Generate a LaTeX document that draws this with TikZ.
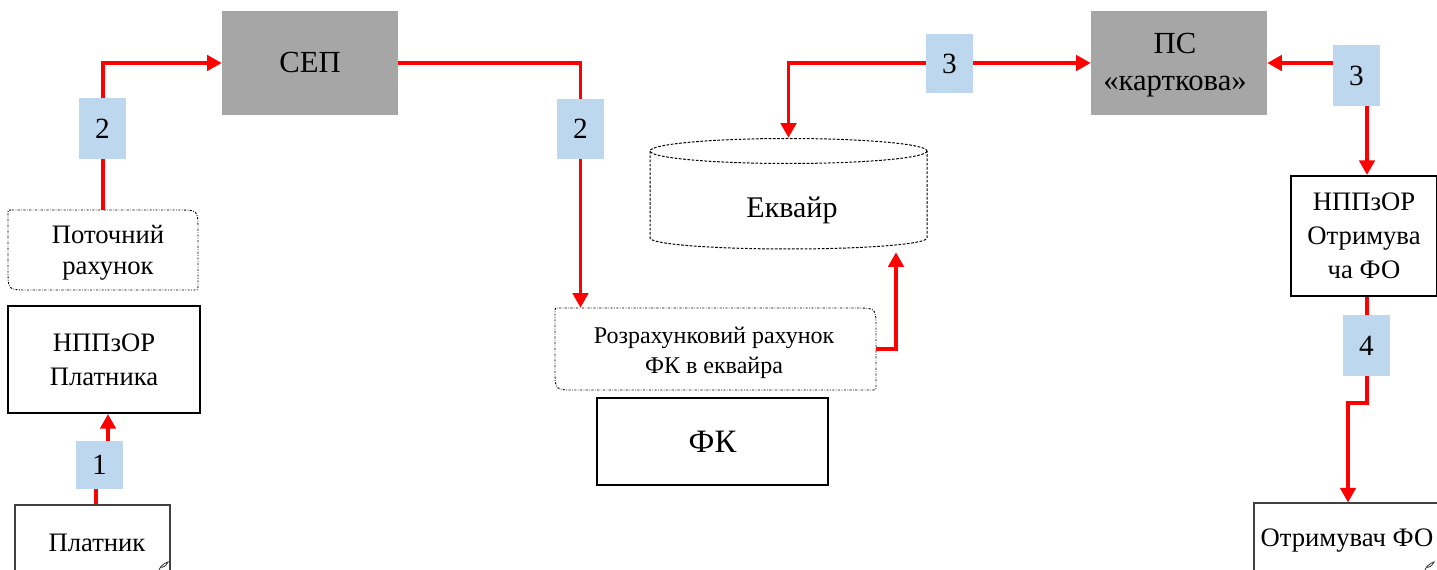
\documentclass[tikz,border=0pt]{standalone}
\usepackage{fontspec}
\setmainfont{Liberation Serif}
\usetikzlibrary{arrows.meta}
\newdimen\pxu \pxu=0.75pt
\definecolor{flowred}{RGB}{255,0,0}
\definecolor{tagblue}{RGB}{189,215,238}
\definecolor{sysgray}{RGB}{166,166,166}
\tikzset{
  txt/.style={font=\fontsize{20}{23.5}\selectfont, align=center, inner sep=0pt},
  solidbox/.style={draw=black, line width=1.5pt, inner sep=0pt, align=center,
    font=\fontsize{20}{25.5}\selectfont},
  sysbox/.style={fill=sysgray, inner sep=0pt, align=center,
    font=\fontsize{23}{28}\selectfont},
  docbox/.style={draw=black!75, line width=0.8pt, inner sep=0pt},
  tag/.style={fill=tagblue, inner sep=0pt, font=\fontsize{22}{24}\selectfont},
  ghost/.style={inner sep=0pt},
  dotbdr/.style={draw=black, line width=0.7pt,
    dash pattern=on 1.6pt off 1.1pt on 0.5pt off 1.1pt},
  dashbdr/.style={draw=black, line width=0.75pt, dash pattern=on 2pt off 1.2pt},
  flow/.style={draw=flowred, line width=2.8pt, line join=miter,
    -{Triangle[width=11.5pt,length=11pt]}},
  flow2/.style={flow, {Triangle[width=11.5pt,length=11pt]}-{Triangle[width=11.5pt,length=11pt]}},
}
% box with two large and two small rounded corners
\newcommand\diagbox[7][]{%
  \draw[dotbdr,#1] (#2+#7,#3) -- (#4-#6,#3) .. controls (#4,#3) .. (#4,#3+#6)
    -- (#4,#5-#7) .. controls (#4,#5) .. (#4-#7,#5)
    -- (#2+#6,#5) .. controls (#2,#5) .. (#2,#5-#6)
    -- (#2,#3+#7) .. controls (#2,#3) .. (#2+#7,#3) -- cycle;}
% little curl at the bottom corner of a document sheet
\newcommand\sheetcurl[2]{%
  \draw[black!80, line width=0.6pt] (#1-10,#2+7) .. controls (#1-9,#2+1) and (#1-4,#2-3) .. (#1,#2-4)
    .. controls (#1-2,#2) and (#1-5,#2+2) .. (#1-8,#2+1);}
\begin{document}
\begin{tikzpicture}[x=0.75pt,y=-0.75pt]
\path[use as bounding box] (0,0) rectangle (1437,570);
\begin{scope}
\clip (0,0) rectangle (1437,570);

% ---- payer side ----
\node[docbox, minimum width=155\pxu, minimum height=76\pxu] (plat) at (92.5,543) {};
\node[txt] at (97,543) {Платник};
\sheetcurl{168}{566}
\node[solidbox, minimum width=192\pxu, minimum height=107\pxu] (npp) at (104,359.5)
  {НППзОР\\Платника};
\diagbox{8}{210}{198}{290}{20}{4}
\node[ghost, minimum width=190\pxu, minimum height=80\pxu] (pot) at (103,250) {};
\node[txt] at (108,253) {Поточний\\рахунок};

% ---- clearing systems ----
\node[sysbox, minimum width=176\pxu, minimum height=104\pxu] (sep) at (310,63) {СЕП};
\node[sysbox, minimum width=176\pxu, minimum height=104\pxu] (ps) at (1179,63) {};
\node[sysbox, fill=none] at (1175,65) {ПС\\«карткова»};

% ---- acquirer side ----
\draw[dashbdr] (788.5,151) ellipse [x radius=138.5, y radius=12.5];
\draw[dashbdr] (650,151) -- (650,238) arc[start angle=180, end angle=0,
  x radius=138.5, y radius=11] -- (927,151);
\node[ghost, minimum width=277\pxu, minimum height=112\pxu] (ekv) at (788.5,194) {};
\node[txt] at (792,210) {\fontsize{22.5}{26}\selectfont Еквайр};
\diagbox{555}{308}{876}{390}{20}{4}
\node[ghost, minimum width=321\pxu, minimum height=82\pxu] (roz) at (715.5,349) {};
\node[txt, font=\fontsize{18}{22.5}\selectfont] at (714,353)
  {Розрахунковий рахунок\\ФК в еквайра};
\node[solidbox, minimum width=231\pxu, minimum height=87\pxu] (fk) at (712.5,441.5)
  {\fontsize{24.5}{28}\selectfont ФК};

% ---- receiver side ----
\node[solidbox, minimum width=146\pxu, minimum height=120\pxu] (npo) at (1364,236)
  {НППзОР\\Отримува\\ча ФО};
\node[docbox, minimum width=188\pxu, minimum height=72\pxu] (otr) at (1348,539) {};
\node[txt] at (1347,541) {Отримувач ФО};
\sheetcurl{1434}{566}

% ---- step tag anchors ----
\coordinate (t1) at (99.5,465);
\coordinate (t2a) at (102.5,128.5);
\coordinate (t2b) at (580.5,129);
\coordinate (t3a) at (949.5,63.5);
\coordinate (t3b) at (1356.5,75.5);
\coordinate (t4) at (1366.5,345.5);

% ---- money flows ----
\draw[flow] ([xshift=3.5\pxu]plat.north) |- (t1) -| ([xshift=4\pxu]npp.south);
\draw[flow] (pot.north) |- (sep.west);
\draw[flow] (sep.east) -| (roz.north -| t2b);
\draw[flow] (roz.east) -| ([xshift=107.5\pxu, yshift=-2\pxu]ekv.south);
\draw[flow2] (ekv.north) |- (ps.west);
\draw[flow2] (ps.east) -| ([xshift=3\pxu]npo.north);
\draw[flow] ([xshift=3\pxu]npo.south) -- ++(0,106) -| (otr.north);

% ---- step tags, on top of the flow lines ----
\node[tag, minimum width=47\pxu, minimum height=48\pxu] (n1) at (t1) {1};
\node[tag, minimum width=47\pxu, minimum height=61\pxu] (n2a) at (t2a) {2};
\node[tag, minimum width=47\pxu, minimum height=60\pxu] (n2b) at (t2b) {2};
\node[tag, minimum width=47\pxu, minimum height=59\pxu] (n3a) at (t3a) {3};
\node[tag, minimum width=47\pxu, minimum height=61\pxu] (n3b) at (t3b) {3};
\node[tag, minimum width=47\pxu, minimum height=61\pxu] (n4) at (t4) {4};
\end{scope}
\end{tikzpicture}
\end{document}
